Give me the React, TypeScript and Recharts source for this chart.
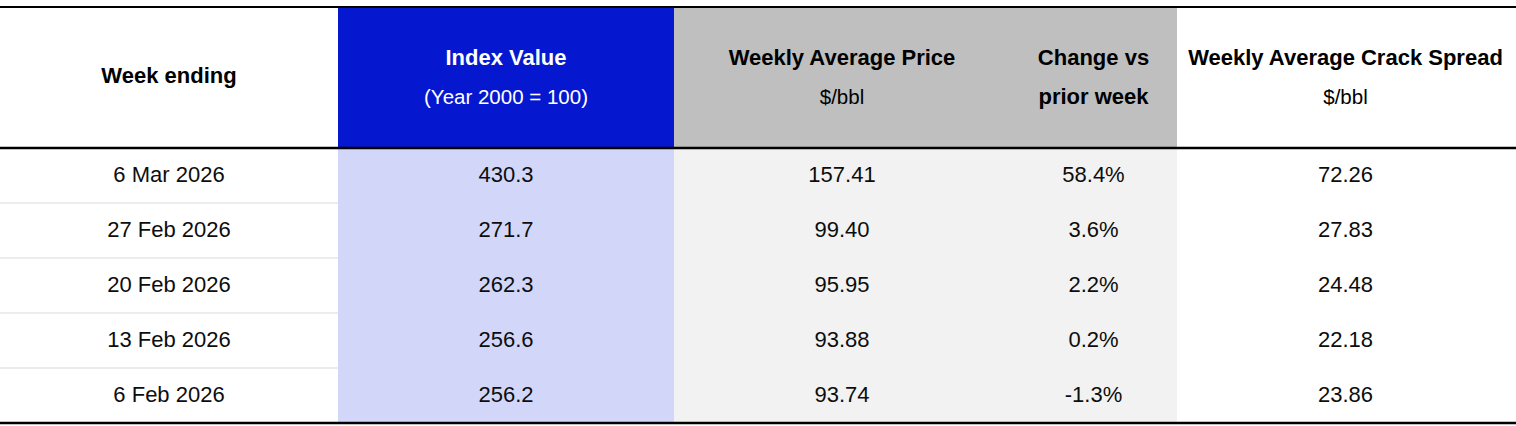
import React from 'react';
import { ComposedChart, XAxis, YAxis, Scatter, ReferenceArea, ReferenceLine } from 'recharts';

// ---------- data ----------
const weeks = ['6 Mar 2026', '27 Feb 2026', '20 Feb 2026', '13 Feb 2026', '6 Feb 2026'];
const indexValues = [430.3, 271.7, 262.3, 256.6, 256.2];
const avgPrices = [157.41, 99.4, 95.95, 93.88, 93.74];
const weeklyChanges = [58.4, 3.6, 2.2, 0.2, -1.3];
const crackSpreads = [72.26, 27.83, 24.48, 22.18, 23.86];

const headerTitles = ['Week ending', 'Index Value', 'Weekly Average Price', 'Change vs', 'Weekly Average Crack Spread'];
const headerSubtitles = ['', '(Year 2000 = 100)', '$/bbl', 'prior week', '$/bbl'];

// ---------- layout ----------
const W = 1516;
const H = 426;
const ROW_PX = 55;
const HEADER_BOTTOM_PX = 148;
const Y_MIN = -HEADER_BOTTOM_PX / ROW_PX;
const Y_MAX = (H - HEADER_BOTTOM_PX) / ROW_PX;
const pxToY = (px: number) => (px - HEADER_BOTTOM_PX) / ROW_PX;
const COL_EDGES = [0, 338, 674, 1010, 1177, 1514];
const colCenter = (c: number) => (COL_EDGES[c] + COL_EDGES[c + 1]) / 2;

const BLUE = '#0618CF';
const LAVENDER = '#D2D7FA';
const GREY_HEAD = '#BFBFBF';
const GREY_BODY = '#F2F2F2';
const FONT = '"Liberation Sans", Arial, Helvetica, sans-serif';

const columns: string[][] = [
  weeks,
  indexValues.map((v) => v.toFixed(1)),
  avgPrices.map((v) => v.toFixed(2)),
  weeklyChanges.map((v) => v.toFixed(1) + '%'),
  crackSpreads.map((v) => v.toFixed(2)),
];

const bodyData = columns.map((col, c) =>
  col.map((label, i) => ({ x: colCenter(c), y: i + 0.5, label }))
);

const headerData = headerTitles.flatMap((title, c) => {
  const sub = headerSubtitles[c];
  const color = c === 1 ? '#FFFFFF' : '#000000';
  if (!sub) {
    return [{ x: colCenter(c), y: pxToY(75), label: title, bold: true, color, size: 22 }];
  }
  const subBold = c === 3;
  return [
    { x: colCenter(c), y: pxToY(57), label: title, bold: true, color, size: 22 },
    { x: colCenter(c), y: pxToY(96.5), label: sub, bold: subBold, color, size: subBold ? 22 : 20.5 },
  ];
});

const BodyCell = (props: any) => {
  const { cx, cy, payload } = props;
  return (
    <text x={cx} y={cy - 1} textAnchor="middle" dominantBaseline="central" fontSize={22} fill="#0D0D0D" fontFamily={FONT}>
      {payload.label}
    </text>
  );
};

const HeaderCell = (props: any) => {
  const { cx, cy, payload } = props;
  return (
    <text
      x={cx}
      y={cy}
      textAnchor="middle"
      dominantBaseline="central"
      fontSize={payload.size}
      fontWeight={payload.bold ? 700 : 400}
      fill={payload.color}
      fontFamily={FONT}
    >
      {payload.label}
    </text>
  );
};

export default function App() {
  const top = pxToY(7);
  return (
    <div style={{ position: 'absolute', left: 0, top: 0, width: W, height: H, background: '#fff', fontFamily: FONT }}>
      <ComposedChart width={W} height={H} margin={{ top: 0, right: 0, bottom: 0, left: 0 }}>
        <XAxis type="number" dataKey="x" domain={[0, W]} hide allowDataOverflow />
        <YAxis type="number" dataKey="y" domain={[Y_MIN, Y_MAX]} reversed hide allowDataOverflow />

        {/* header backgrounds */}
        <ReferenceArea x1={COL_EDGES[1]} x2={COL_EDGES[2]} y1={pxToY(8)} y2={0} fill={BLUE} fillOpacity={1} strokeWidth={0} />
        <ReferenceArea x1={COL_EDGES[2]} x2={COL_EDGES[4]} y1={pxToY(8)} y2={0} fill={GREY_HEAD} fillOpacity={1} strokeWidth={0} />
        {/* body backgrounds */}
        <ReferenceArea x1={COL_EDGES[1]} x2={COL_EDGES[2]} y1={0} y2={weeks.length} fill={LAVENDER} fillOpacity={1} strokeWidth={0} />
        <ReferenceArea x1={COL_EDGES[2]} x2={COL_EDGES[4]} y1={0} y2={weeks.length} fill={GREY_BODY} fillOpacity={1} strokeWidth={0} />

        {/* row separators in first column */}
        {weeks.slice(1).map((_, i) => (
          <ReferenceLine
            key={'sep' + i}
            segment={[{ x: COL_EDGES[0], y: i + 1 }, { x: COL_EDGES[1], y: i + 1 }]}
            stroke="#D9D9D9"
            strokeWidth={1}
          />
        ))}

        {/* rules */}
        <ReferenceLine y={top} stroke="#000" strokeWidth={2} />
        <ReferenceLine y={0} stroke="#000" strokeWidth={2.5} />
        <ReferenceLine y={weeks.length} stroke="#000" strokeWidth={2.5} />

        <Scatter data={headerData} shape={HeaderCell} isAnimationActive={false} />
        {bodyData.map((d, c) => (
          <Scatter key={'col' + c} data={d} shape={BodyCell} isAnimationActive={false} />
        ))}
      </ComposedChart>
    </div>
  );
}
